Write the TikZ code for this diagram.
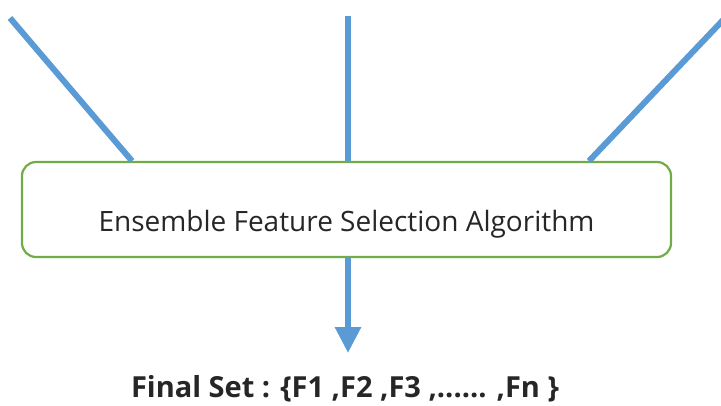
\documentclass[tikz,border=0pt]{standalone}
\usepackage{fontspec}
\setmainfont{Open Sans}
\usetikzlibrary{arrows.meta}
\definecolor{feedblue}{HTML}{5B9BD5}
\definecolor{boxgreen}{HTML}{70AD47}
\tikzset{
  feed/.style={feedblue, line width=6pt},
  algobox/.style={draw=boxgreen, line width=2.2pt, rounded corners=14pt,
    minimum width=649pt, minimum height=95pt, inner sep=0pt,
    text height=43pt, text depth=0pt,
    font=\fontsize{28}{34}\selectfont, text=black!85},
}

\begin{document}
\begin{tikzpicture}[x=1pt, y=-1pt]
  \useasboundingbox (0,0) rectangle (721,405);
  % Coordinates
  \coordinate (inL) at (10,18);
  \coordinate (inM) at (348,16);
  \coordinate (inR) at (725,18);
  \coordinate (hitL) at (132,161);
  \coordinate (hitM) at (348,161);
  \coordinate (hitR) at (589,161);
  \coordinate (tip) at (348,353);

  % Nodes
  \node[algobox] (algo) at (346.5,209.5) {Ensemble Feature Selection Algorithm};
  \node[font=\fontsize{29}{34}\selectfont\bfseries, text=black!85] (final) at (345,389)
    {Final Set : \{F1 ,F2 ,F3 ,...... ,Fn \}};

  % Drawing
  \draw[feed] (inL) -- (hitL);
  \draw[feed] (inM) -- (hitM);
  \draw[feed] (inR) -- (hitR);
  \draw[feed, -{Triangle[width=25pt, length=26pt]}] (algo.south -| inM) -- (tip);
\end{tikzpicture}
\end{document}
